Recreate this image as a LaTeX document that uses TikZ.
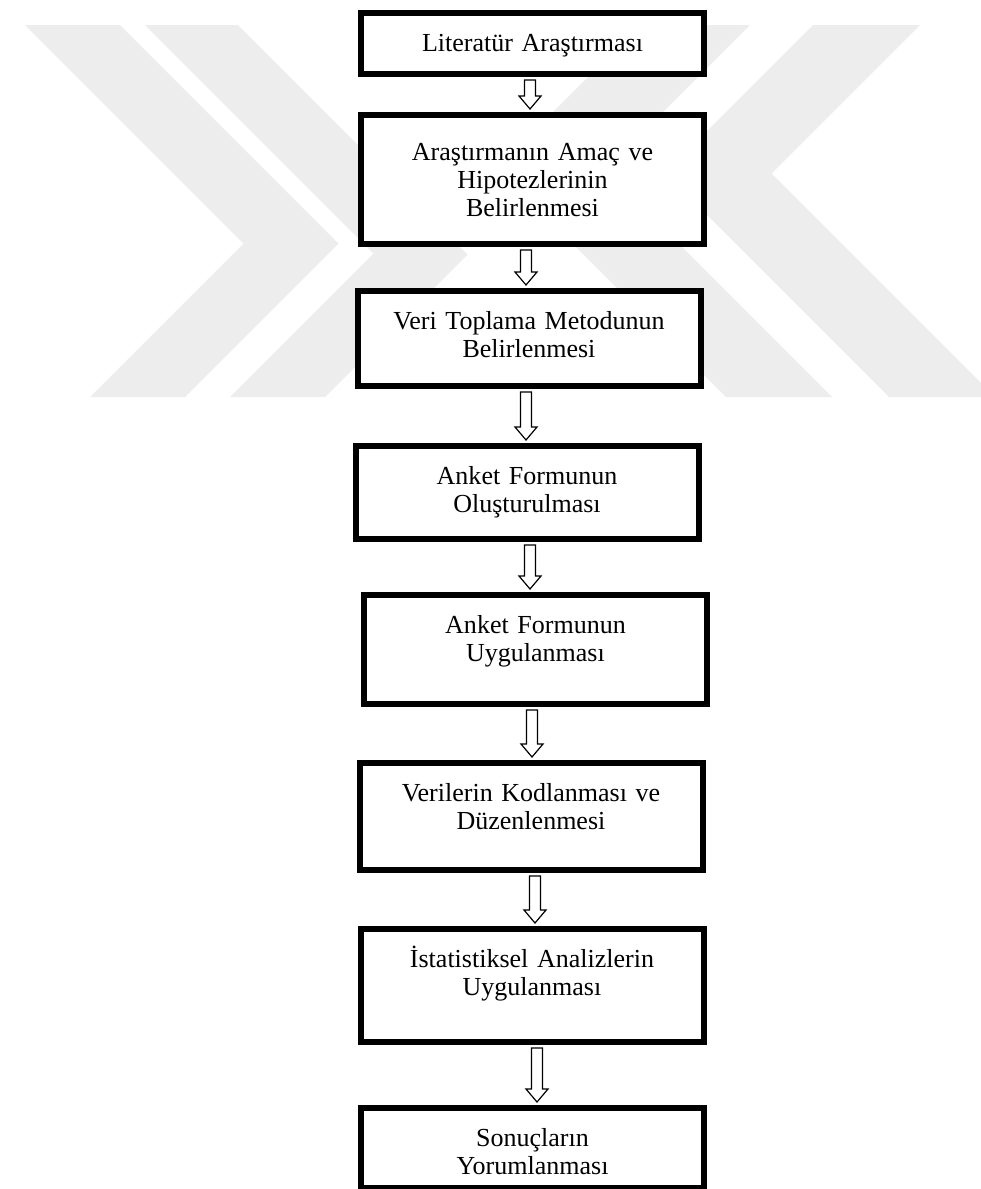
\documentclass[tikz,border=0pt]{standalone}
\usepackage{fontspec}
\setmainfont{Liberation Serif}
\usetikzlibrary{calc}

\begin{document}
\begin{tikzpicture}[
    x=1bp, y=-1bp,
    box/.style={rectangle, draw, fill=white, line width=6bp, anchor=north,
                inner xsep=0pt, inner ysep=0pt,
                text width=343bp, align=center,
                text height=38bp, text depth=#1-44bp,
                font=\fontsize{26bp}{28bp}\selectfont},
    hollow/.style={draw, line width=1.2bp, fill=white, to path={
        let \p1=(\tikztostart), \p2=(\tikztotarget) in
        (\x1-5.5bp,\y1) -- (\x1-5.5bp,\y2+13bp) -- (\x1-11bp,\y2+13bp)
        -- (\x1,\y2) -- (\x1+11bp,\y2+13bp) -- (\x1+5.5bp,\y2+13bp)
        -- (\x1+5.5bp,\y1) -- cycle}},
    wmark/.style={fill=black!7}
]
  \useasboundingbox (0,0) rectangle (981,1189);

  % Watermark
  \fill[wmark] (25,25) -- (120,25) -- (338.5,243.5) -- (185,397)
    -- (90,397) -- (243.5,243.5) -- cycle;
  \fill[wmark] (145,25) -- (238,25) -- (467.5,254.5) -- (325,397)
    -- (230,397) -- (373.5,253.5) -- cycle;
  \fill[wmark] (640,25) -- (750,25) -- (605,170) -- (832,397)
    -- (726,397) -- (497,168) -- cycle;
  \fill[wmark] (813,25) -- (920,25) -- (771.5,173.5) -- (995,397)
    -- (889,397) -- (665,173) -- cycle;

  % Steps
  \node[box=67bp] (lit) at (532.5,10) {Literatür Araştırması};
  \node[box=135bp, text height=45bp, text depth=84bp] (amac) at (532.5,112)
    {Araştırmanın Amaç ve\\Hipotezlerinin\\Belirlenmesi};
  \node[box=101bp] (metot) at (529,288) {Veri Toplama Metodunun\\Belirlenmesi};
  \node[box=99bp] (form) at (527,443) {Anket Formunun\\Oluşturulması};
  \node[box=115bp] (uygula) at (535.5,592) {Anket Formunun\\Uygulanması};
  \node[box=113bp] (kod) at (531,760) {Verilerin Kodlanması ve\\Düzenlenmesi};
  \node[box=119bp] (analiz) at (532,926) {İstatistiksel Analizlerin\\Uygulanması};
  \node[box=86bp] (sonuc) at (532.5,1105) {Sonuçların\\Yorumlanması};

  % Arrows
  \draw[hollow] ([xshift=-2.5bp,yshift=-3bp]lit.south) to ([yshift=3bp]amac.north);
  \draw[hollow] ([xshift=-6.5bp,yshift=-3bp]amac.south) to ([yshift=3bp]metot.north);
  \draw[hollow] ([xshift=-3bp,yshift=-3bp]metot.south) to ([yshift=3bp]form.north);
  \draw[hollow] ([xshift=3bp,yshift=-3bp]form.south) to ([yshift=3bp]uygula.north);
  \draw[hollow] ([xshift=-3.5bp,yshift=-3bp]uygula.south) to ([yshift=3bp]kod.north);
  \draw[hollow] ([xshift=4bp,yshift=-3bp]kod.south) to ([yshift=3bp]analiz.north);
  \draw[hollow] ([xshift=5bp,yshift=-3bp]analiz.south) to ([yshift=3bp]sonuc.north);
\end{tikzpicture}
\end{document}
